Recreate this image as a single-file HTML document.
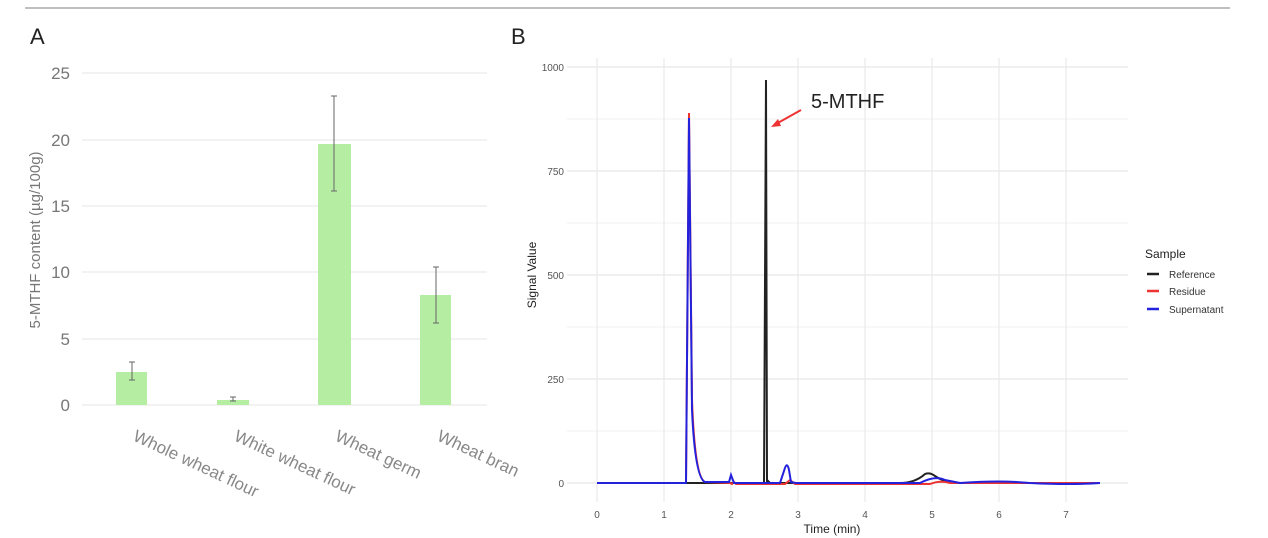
<!DOCTYPE html>
<html><head><meta charset="utf-8"><style>
body{margin:0;background:#fff}
svg{display:block;font-family:"Liberation Sans",sans-serif}
</style></head><body>
<svg width="1268" height="538" viewBox="0 0 1268 538" xmlns="http://www.w3.org/2000/svg">
<line x1="25" y1="8" x2="1230" y2="8" stroke="#aaa" stroke-width="1.5"/>
<text x="30" y="44" font-size="22" fill="#222">A</text>
<text x="511" y="44" font-size="22" fill="#222">B</text>
<!-- Chart A -->
<g stroke="#ebebeb" stroke-width="1.2">
<line x1="82" y1="73" x2="487" y2="73"/><line x1="82" y1="140" x2="487" y2="140"/>
<line x1="82" y1="206" x2="487" y2="206"/><line x1="82" y1="272" x2="487" y2="272"/>
<line x1="82" y1="339" x2="487" y2="339"/><line x1="82" y1="405" x2="487" y2="405"/>
</g>
<g font-size="17" fill="#777" text-anchor="end">
<text x="70" y="79">25</text><text x="70" y="146">20</text><text x="70" y="212">15</text>
<text x="70" y="278">10</text><text x="70" y="345">5</text><text x="70" y="411">0</text>
</g>
<text transform="translate(40,240) rotate(-90)" font-size="15" fill="#777" text-anchor="middle">5-MTHF content (µg/100g)</text>
<g fill="#b5eea3">
<rect x="116" y="372" width="31" height="33"/>
<rect x="217" y="400" width="32" height="5"/>
<rect x="318" y="144" width="33" height="261"/>
<rect x="420" y="295" width="31" height="110"/>
</g>
<g stroke="#666" stroke-width="1">
<path d="M132 380V362M129 380h6M129 362h6"/>
<path d="M233 401V397M230 401h6M230 397h6"/>
<path d="M334 191V96M331 191h6M331 96h6"/>
<path d="M436 323V267M433 323h6M433 267h6"/>
</g>
<g font-size="17" fill="#888">
<text transform="translate(132,440) rotate(25)">Whole wheat flour</text>
<text transform="translate(233,440) rotate(25)">White wheat flour</text>
<text transform="translate(334,440) rotate(25)">Wheat germ</text>
<text transform="translate(436,440) rotate(25)">Wheat bran</text>
</g>
<!-- Chart B -->
<g stroke="#f2f2f2" stroke-width="1">
<line x1="567" y1="119" x2="1128" y2="119"/><line x1="567" y1="223" x2="1128" y2="223"/>
<line x1="567" y1="327" x2="1128" y2="327"/><line x1="567" y1="431" x2="1128" y2="431"/>
</g>
<g stroke="#e8e8e8" stroke-width="1.2">
<line x1="567" y1="67" x2="1128" y2="67"/><line x1="567" y1="171" x2="1128" y2="171"/>
<line x1="567" y1="275" x2="1128" y2="275"/><line x1="567" y1="379" x2="1128" y2="379"/>
<line x1="567" y1="483" x2="1128" y2="483"/>
<line x1="597" y1="58" x2="597" y2="502"/><line x1="664" y1="58" x2="664" y2="502"/>
<line x1="731" y1="58" x2="731" y2="502"/><line x1="798" y1="58" x2="798" y2="502"/>
<line x1="865" y1="58" x2="865" y2="502"/><line x1="932" y1="58" x2="932" y2="502"/>
<line x1="999" y1="58" x2="999" y2="502"/><line x1="1066" y1="58" x2="1066" y2="502"/>
</g>
<g font-size="10" fill="#555" text-anchor="end">
<text x="564" y="71">1000</text><text x="564" y="175">750</text><text x="564" y="279">500</text>
<text x="564" y="383">250</text><text x="564" y="487">0</text>
</g>
<g font-size="10" fill="#555" text-anchor="middle">
<text x="597" y="518">0</text><text x="664" y="518">1</text><text x="731" y="518">2</text><text x="798" y="518">3</text>
<text x="865" y="518">4</text><text x="932" y="518">5</text><text x="999" y="518">6</text><text x="1066" y="518">7</text>
</g>
<text x="832" y="533" font-size="12" fill="#222" text-anchor="middle">Time (min)</text>
<text transform="translate(536,275) rotate(-90)" font-size="12" fill="#222" text-anchor="middle">Signal Value</text>
<!-- series -->
<path d="M597 483H764L766 80L767 483L768 481L770 483H900Q915 483 925 474Q930 472 935 476Q945 483 960 483H1100" fill="none" stroke="#222" stroke-width="2"/>
<path d="M597 483H686L689 113L692 400Q695 478 705 482L730 483L732 484L734 482L736 484H785L790 480L795 484H930Q940 480 950 483H1100" fill="none" stroke="#e33" stroke-width="2"/>
<path d="M597 483H686L689 118L692 410Q695 478 705 482H729L731 475L734 483H780L784 471Q787 460 789 470L791 482L796 483H920Q935 475 945 480L960 483Q1000 480 1030 483Q1070 485 1100 483" fill="none" stroke="#2222dd" stroke-width="2"/>
<!-- annotation -->
<text x="811" y="108" font-size="20" fill="#222">5-MTHF</text>
<line x1="801" y1="110" x2="776" y2="124" stroke="#e33" stroke-width="2"/>
<path d="M771 127L778 119L781 126Z" fill="#e33"/>
<!-- legend -->
<text x="1145" y="258" font-size="12" fill="#222">Sample</text>
<g stroke-width="2.5">
<line x1="1147" y1="274" x2="1159" y2="274" stroke="#222"/>
<line x1="1147" y1="291" x2="1159" y2="291" stroke="#e33"/>
<line x1="1147" y1="309" x2="1159" y2="309" stroke="#2222dd"/>
</g>
<g font-size="10" fill="#333">
<text x="1169" y="278">Reference</text><text x="1169" y="295">Residue</text><text x="1169" y="313">Supernatant</text>
</g>
</svg>
</body></html>
